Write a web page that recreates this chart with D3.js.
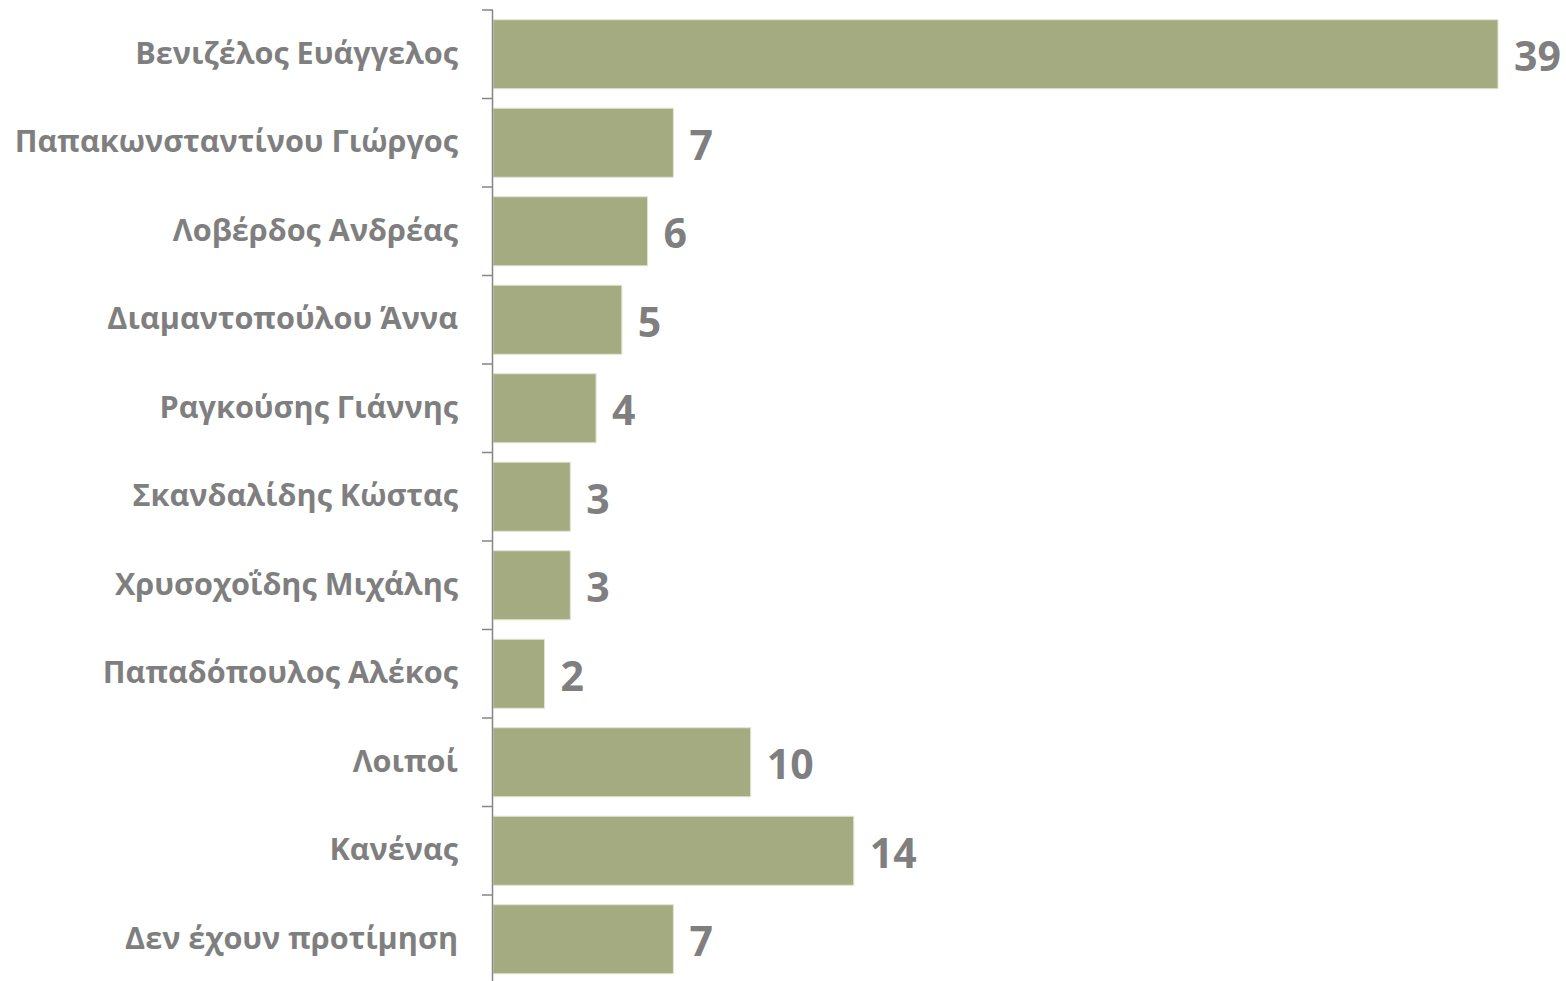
<!DOCTYPE html>
<html>
<head>
<meta charset="utf-8">
<script src="https://cdn.jsdelivr.net/npm/d3@7"></script>
<style>
  html, body { margin: 0; padding: 0; background: #ffffff; }
  svg { display: block; }
</style>
</head>
<body>
<svg id="chart" width="1566" height="981"></svg>
<script>
const categories = [
  "Βενιζέλος Ευάγγελος",
  "Παπακωνσταντίνου Γιώργος",
  "Λοβέρδος Ανδρέας",
  "Διαμαντοπούλου Άννα",
  "Ραγκούσης Γιάννης",
  "Σκανδαλίδης Κώστας",
  "Χρυσοχοΐδης Μιχάλης",
  "Παπαδόπουλος Αλέκος",
  "Λοιποί",
  "Κανένας",
  "Δεν έχουν προτίμηση"
];
const values = [39, 7, 6, 5, 4, 3, 3, 2, 10, 14, 7];

const svg = d3.select("#chart");
const margin = { top: 10, left: 493 };
const plotW = 1005;
const plotH = 973.5;

const x = d3.scaleLinear().domain([0, 39]).range([0, plotW]);
const y = d3.scaleBand().domain(categories).range([0, plotH]).paddingInner(0.22).paddingOuter(0.11);

const g = svg.append("g").attr("transform", `translate(${margin.left},${margin.top})`);

g.selectAll("rect.bar")
  .data(categories)
  .join("rect")
  .attr("class", "bar")
  .attr("x", 0)
  .attr("y", d => y(d))
  .attr("width", (d, i) => x(values[i]))
  .attr("height", y.bandwidth())
  .attr("fill", "#a4ab80")
  .attr("stroke", "#e3e6d3")
  .attr("stroke-width", 1);

// axis line and tick marks between categories
const axisG = g.append("g");
axisG.append("line")
  .attr("x1", -0.5).attr("x2", -0.5)
  .attr("y1", 0).attr("y2", plotH)
  .attr("stroke", "#868686").attr("stroke-width", 1.5);
const tickPos = d3.range(categories.length + 1).map(i => i * plotH / categories.length);
axisG.selectAll("line.tick")
  .data(tickPos)
  .join("line")
  .attr("class", "tick")
  .attr("x1", -11).attr("x2", 0)
  .attr("y1", d => d).attr("y2", d => d)
  .attr("stroke", "#868686").attr("stroke-width", 1.5);

// category labels
g.selectAll("text.cat")
  .data(categories)
  .join("text")
  .attr("class", "cat")
  .attr("x", -35)
  .attr("y", d => y(d) + y.bandwidth() / 2 - 1)
  .attr("dy", "0.35em")
  .attr("text-anchor", "end")
  .attr("font-family", "'Open Sans', sans-serif")
  .attr("font-weight", "bold")
  .attr("font-size", 30.6)
  .attr("fill", "#7f7f7f")
  .text(d => d);

// value labels
g.selectAll("text.val")
  .data(categories)
  .join("text")
  .attr("class", "val")
  .attr("x", (d, i) => x(values[i]) + 16)
  .attr("y", d => y(d) + y.bandwidth() / 2 + 2)
  .attr("dy", "0.36em")
  .attr("font-family", "'Open Sans', sans-serif")
  .attr("font-weight", "bold")
  .attr("font-size", 41)
  .attr("fill", "#7f7f7f")
  .text((d, i) => values[i]);
</script>
</body>
</html>
